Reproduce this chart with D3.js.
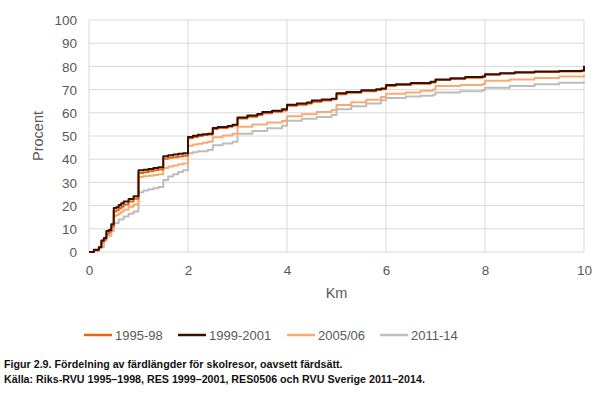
<!DOCTYPE html>
<html>
<head>
<meta charset="utf-8">
<script src="https://cdn.jsdelivr.net/npm/d3@7"></script>
<style>
  body { margin: 0; background: #fff; }
  svg { display: block; font-family: "Liberation Sans", Arial, sans-serif; }
</style>
</head>
<body>
<div id="vis"></div>
<script>

/* Data */
/* ---- */

var seriesNames = ['1995-98', '1999-2001', '2005/06', '2011-14'];
var seriesColours = ['#E8640C', '#3A0E00', '#F9AA72', '#BDBDBD'];

// km, procent (cumulative share of trips)
var s1995 = [[0,0],[0.1,0.8],[0.2,2],[0.25,4.5],[0.3,5.5],[0.35,8],[0.4,8.8],[0.45,11],[0.5,17.5],[0.55,18],[0.6,18.8],[0.65,19.5],[0.7,20.5],[0.8,21.8],[0.9,23],
  [1.0,34],[1.1,34.4],[1.2,34.8],[1.3,35.2],[1.4,35.6],[1.5,40.2],[1.6,40.6],[1.7,40.8],[1.8,41.2],[1.9,41.5],
  [2.0,49],[2.1,49.6],[2.2,50],[2.3,50.4],[2.4,50.6],[2.5,53],[2.6,53.5],[2.8,54],[2.9,54.5],[3.0,57.5],[3.2,58.3],[3.4,59],[3.5,59.8],[3.7,60.5],[3.9,61],
  [4.0,63],[4.2,63.5],[4.4,64],[4.5,64.8],[4.7,65.3],[4.9,65.8],[5.0,68],[5.2,68.6],[5.5,69.3],[5.8,69.8],[5.9,70.1],
  [6.0,71.6],[6.2,72],[6.5,72.5],[6.9,73.1],[7.0,74.1],[7.3,74.6],[7.6,75.1],[7.95,75.5],[8.0,76.4],[8.3,76.9],[8.6,77.3],[9.0,77.6],[9.5,77.8],[9.95,78],[10.0,79.5]];

var s1999 = [[0,0],[0.1,1],[0.2,2],[0.25,5],[0.3,6],[0.35,9],[0.4,9.5],[0.45,12],[0.5,19],[0.55,19.3],[0.6,20.3],[0.65,21],[0.7,21.8],[0.8,22.8],[0.9,24],
  [1.0,35.2],[1.1,35.5],[1.2,35.8],[1.3,36.2],[1.4,36.5],[1.5,41.3],[1.6,41.7],[1.7,42],[1.8,42.3],[1.9,42.6],
  [2.0,49.6],[2.1,50.1],[2.2,50.5],[2.3,50.8],[2.4,51],[2.5,53.4],[2.6,53.9],[2.8,54.3],[2.9,54.8],[3.0,58],[3.2,58.8],[3.4,59.5],[3.5,60.3],[3.7,60.9],[3.9,61.5],
  [4.0,63.5],[4.2,64],[4.4,64.4],[4.5,65.3],[4.7,65.7],[4.9,66.1],[5.0,68.4],[5.2,69],[5.5,69.7],[5.8,70.2],[5.9,70.5],
  [6.0,72],[6.2,72.3],[6.5,72.8],[6.9,73.4],[7.0,74.4],[7.3,74.9],[7.6,75.4],[7.95,75.7],[8.0,76.6],[8.3,77.1],[8.6,77.5],[9.0,77.8],[9.5,78],[9.95,78.2],[10.0,80.3]];

var s2005 = [[0,0],[0.1,0.7],[0.2,1.8],[0.25,4],[0.3,5],[0.35,7.2],[0.4,8],[0.45,10],[0.5,15.5],[0.55,16],[0.6,16.6],[0.65,17.3],[0.7,18.2],[0.8,19.5],[0.9,20.5],
  [1.0,32.3],[1.1,32.6],[1.2,32.9],[1.3,33.2],[1.4,33.5],[1.5,36.2],[1.6,36.8],[1.7,37.3],[1.8,37.8],[1.9,38.2],
  [2.0,45.8],[2.1,46.3],[2.2,46.7],[2.3,47.1],[2.4,47.5],[2.5,49.5],[2.7,50.2],[2.9,51],[3.0,54],[3.3,55],[3.6,55.8],[3.9,56.5],
  [4.0,58.5],[4.3,59.4],[4.6,60.3],[4.9,61.2],[5.0,63.4],[5.3,64.5],[5.6,65.6],[5.9,66.8],
  [6.0,68.2],[6.4,68.8],[6.7,69.5],[6.95,70],[7.0,71.5],[7.5,72],[7.95,72.4],[8.0,73.8],[8.5,74.4],[9.0,75],[9.5,75.7],[10.0,76.4]];

var s2011 = [[0,0],[0.1,0.8],[0.2,2],[0.3,5],[0.35,7],[0.45,9],[0.5,12.5],[0.6,14],[0.7,15.3],[0.8,16.5],[0.9,17.5],
  [1.0,25.8],[1.1,26.5],[1.2,27],[1.3,27.5],[1.4,28],[1.5,31],[1.6,32.5],[1.7,33.5],[1.8,34.5],[1.9,35.2],
  [2.0,42.6],[2.1,43],[2.2,43.4],[2.4,44],[2.5,46],[2.7,46.8],[2.9,47.5],[3.0,51],[3.3,52.2],[3.6,53.3],[3.9,54.4],
  [4.0,56.6],[4.3,57.4],[4.6,58.2],[4.9,59],[5.0,61.5],[5.3,62.8],[5.6,64],[5.9,65.4],
  [6.0,66.4],[6.4,67],[6.7,67.4],[6.95,67.8],[7.0,68.7],[7.5,69.3],[7.95,69.8],[8.0,70.8],[8.5,71.6],[9.0,72.3],[9.5,72.9],[10.0,73.4]];

var xTicks = [0, 2, 4, 6, 8, 10];
var yTicks = [0, 10, 20, 30, 40, 50, 60, 70, 80, 90, 100];

var captionLines = [
  'Figur 2.9. Fördelning av färdlängder för skolresor, oavsett färdsätt.',
  'Källa: Riks-RVU 1995–1998, RES 1999–2001, RES0506 och RVU Sverige 2011–2014.'
];


/* Setup */
/* ----- */

var width = 600, height = 395;
var plot = { left: 89, right: 584, top: 20, bottom: 252 };

var svg = d3.select('#vis').append('svg')
    .attr('width', width)
    .attr('height', height);

var x = d3.scaleLinear().domain([0, 10]).range([plot.left, plot.right]);
var y = d3.scaleLinear().domain([0, 100]).range([plot.bottom, plot.top]);


/* Grid */
/* ---- */

var grid = svg.append('g').attr('class', 'grid');

grid.selectAll('.hgrid')
  .data(yTicks)
  .enter().append('line')
    .attr('x1', plot.left).attr('x2', plot.right)
    .attr('y1', function(d) { return y(d); })
    .attr('y2', function(d) { return y(d); })
    .attr('stroke', '#D9D9D9')
    .attr('stroke-width', 1);

grid.selectAll('.vgrid')
  .data(xTicks)
  .enter().append('line')
    .attr('y1', plot.top).attr('y2', plot.bottom)
    .attr('x1', function(d) { return x(d); })
    .attr('x2', function(d) { return x(d); })
    .attr('stroke', '#D9D9D9')
    .attr('stroke-width', 1);


/* Axes */
/* ---- */

var yAxis = svg.append('g')
    .attr('transform', 'translate(' + (plot.left - 12) + ',0)')
    .call(d3.axisLeft(y).tickValues(yTicks).tickSize(0).tickPadding(0));

var xAxis = svg.append('g')
    .attr('transform', 'translate(0,' + (plot.bottom + 13) + ')')
    .call(d3.axisBottom(x).tickValues(xTicks).tickSize(0).tickPadding(0));

[xAxis, yAxis].forEach(function(ax) {
  ax.select('.domain').remove();
  ax.selectAll('text')
    .attr('fill', '#595959')
    .style('font-size', '13.5px')
    .style('font-family', '"Liberation Sans", Arial, sans-serif');
});
yAxis.selectAll('text').attr('dy', '0.35em');
xAxis.selectAll('text').attr('dy', '0.71em');

svg.append('text')
    .attr('x', (plot.left + plot.right) / 2)
    .attr('y', 298)
    .attr('text-anchor', 'middle')
    .attr('fill', '#595959')
    .style('font-size', '14.5px')
    .text('Km');

svg.append('text')
    .attr('transform', 'translate(43,' + ((plot.top + plot.bottom) / 2) + ') rotate(-90)')
    .attr('text-anchor', 'middle')
    .attr('fill', '#595959')
    .style('font-size', '14.5px')
    .text('Procent');


/* Lines */
/* ----- */

var allSeries = [s1995, s1999, s2005, s2011];

var line = d3.line()
    .x(function(d) { return x(d[0]); })
    .y(function(d) { return y(d[1]); })
    .curve(d3.curveStepAfter);

// draw back to front so the older series sit on top
svg.append('g').attr('class', 'lines')
  .selectAll('path')
  .data([3, 2, 0, 1])
  .enter().append('path')
    .attr('d', function(i) { return line(allSeries[i]); })
    .attr('fill', 'none')
    .attr('stroke', function(i) { return seriesColours[i]; })
    .attr('stroke-width', 2)
    .attr('stroke-linejoin', 'round');


/* Legend */
/* ------ */

var legendX = [84, 178, 287, 380];

var legend = svg.append('g').attr('class', 'legend')
  .selectAll('g')
  .data(seriesNames)
  .enter().append('g')
    .attr('transform', function(d, i) { return 'translate(' + legendX[i] + ',335)'; });

legend.append('line')
    .attr('x1', 0).attr('x2', 28)
    .attr('stroke', function(d, i) { return seriesColours[i]; })
    .attr('stroke-width', 2.5);

legend.append('text')
    .attr('x', 31)
    .attr('dy', '0.35em')
    .attr('fill', '#595959')
    .style('font-size', '13px')
    .text(function(d) { return d; });


/* Caption */
/* ------- */

svg.selectAll('.caption')
  .data(captionLines)
  .enter().append('text')
    .attr('class', 'caption')
    .attr('x', 4)
    .attr('y', function(d, i) { return 368 + i * 15; })
    .attr('fill', '#111')
    .style('font-size', '10.7px')
    .style('font-weight', 'bold')
    .text(function(d) { return d; });

</script>
</body>
</html>
